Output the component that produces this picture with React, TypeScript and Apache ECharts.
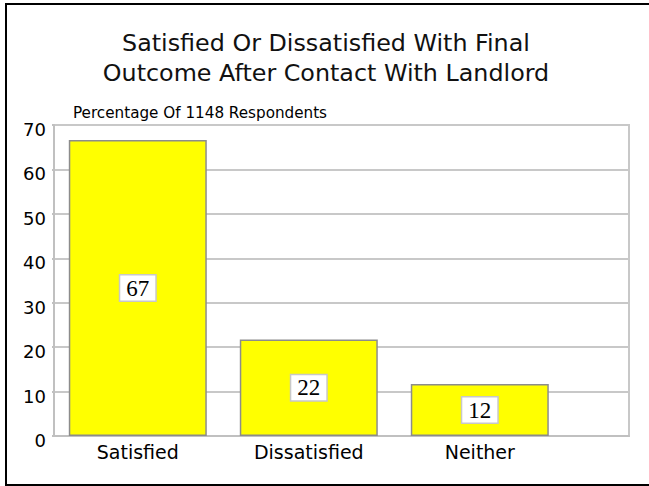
import React, { useEffect, useRef } from "react";
import * as echarts from "echarts";

const titleLines = ["Satisfied Or Dissatisfied With Final", "Outcome After Contact With Landlord"];
const subtitle = "Percentage Of 1148 Respondents";
const categories = ["Satisfied", "Dissatisfied", "Neither"];
const values = [66.6, 21.7, 11.7];
const yTicks = [0, 10, 20, 30, 40, 50, 60, 70];

export default function App() {
  const ref = useRef<HTMLDivElement>(null);
  useEffect(() => {
    if (!ref.current) return;
    const chart = echarts.init(ref.current, null, { renderer: "svg" });
    const offset = 0.49;
    const data = values.map((v, i) => [i + offset, v]);
    const labelPos = categories.map((_, i) => i + offset);
    chart.setOption({
      animation: false,
      backgroundColor: "#ffffff",
      textStyle: { fontFamily: "DejaVu Sans" },
      title: {
        text: titleLines.join("\n"),
        left: 321,
        top: 23,
        textAlign: "center",
        textStyle: {
          fontFamily: "DejaVu Sans",
          fontSize: 23.8,
          fontWeight: "normal",
          color: "#111",
          lineHeight: 30,
        },
      },
      graphic: [
        {
          type: "rect",
          shape: { x: 6, y: 4, width: 700, height: 481 },
          style: { fill: "none", stroke: "#000", lineWidth: 2 },
          silent: true,
        },
        {
          type: "text",
          left: 73,
          top: 105,
          style: {
            text: subtitle,
            font: "15.2px DejaVu Sans",
            fill: "#000",
          },
        },
      ],
      grid: {
        left: 54,
        top: 125,
        width: 575,
        height: 311,
        show: true,
        borderColor: "#c8c8c8",
        borderWidth: 2,
        containLabel: false,
      },
      xAxis: {
        type: "value",
        min: 0,
        max: 575 / 171,
        splitLine: { show: false },
        axisLine: { show: true, onZero: false, lineStyle: { color: "#c0c0c0", width: 2 } },
        axisTick: { show: false },
        axisLabel: {
          customValues: labelPos,
          formatter: (v: number) => categories[Math.round(v - offset)] ?? "",
          fontFamily: "DejaVu Sans",
          fontSize: 19,
          color: "#000",
          margin: 6,
        },
      },
      yAxis: {
        type: "value",
        min: 0,
        max: 70,
        interval: 10,
        data: yTicks,
        axisLine: { show: true, lineStyle: { color: "#c0c0c0", width: 2 } },
        axisTick: { show: true, length: 2, lineStyle: { color: "#c0c0c0", width: 2 } },
        splitLine: { show: true, lineStyle: { color: "#c8c8c8", width: 2 } },
        axisLabel: {
          fontFamily: "DejaVu Sans",
          fontSize: 18,
          color: "#000",
          margin: 8,
          verticalAlign: "top",
          lineHeight: 9,
        },
      },
      series: [
        {
          type: "bar",
          data,
          barWidth: 138,
          itemStyle: { color: "#ffff00", borderColor: "#8c8c8c", borderWidth: 1.5 },
          label: {
            show: true,
            position: "inside",
            formatter: (p: any) => String(Math.round(p.value[1])),
            fontFamily: "Liberation Serif",
            fontSize: 23,
            color: "#000",
            backgroundColor: "#ffffff",
            borderColor: "#c8c8c8",
            borderWidth: 1.5,
            padding: [2, 6, 0, 6],
          },
        },
      ],
    });
    return () => chart.dispose();
  }, []);
  return (
    <div
      ref={ref}
      style={{ position: "absolute", left: 0, top: 0, width: 649, height: 486 }}
    />
  );
}
